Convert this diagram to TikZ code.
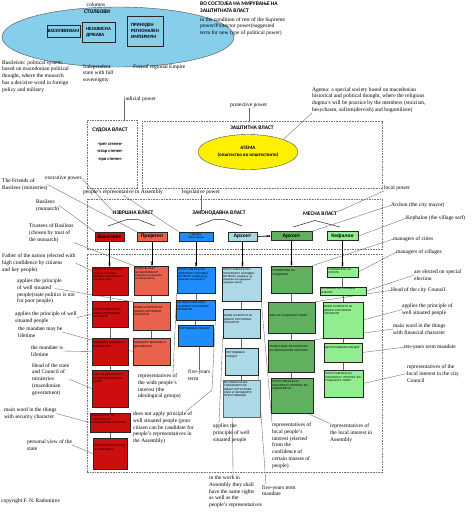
\documentclass[tikz,border=0pt]{standalone}
\usepackage{fontspec}
\setmainfont{Liberation Serif}
\newfontfamily\hfont{Carlito}
\newfontfamily\sfnt{Liberation Sans}
\usetikzlibrary{shapes.geometric,arrows.meta,fit,calc}
\pgfdeclarelayer{bg}
\pgfsetlayers{bg,main}
\definecolor{cskyb}{RGB}{135,206,235}
\definecolor{cred}{RGB}{204,14,14}
\definecolor{csal}{RGB}{232,98,78}
\definecolor{cblue}{RGB}{30,140,250}
\definecolor{clb}{RGB}{173,216,230}
\definecolor{cgreen}{RGB}{96,176,96}
\definecolor{clg}{RGB}{144,238,144}
\definecolor{cyel}{RGB}{255,240,0}
\newcommand\bx[8][2]{%
  \node[cbox, fill=#7, fit={(#3,#4) (#5,#6)}] (#2) {};
  \pgfmathsetmacro\tw{#5-#3-3}%
  \node[boxtxt, text width=\tw pt] (#2t) at ([shift={(1.5,#1)}]#2.north west) {#8};
}
\begin{document}
\begin{tikzpicture}[x=1pt,y=-1pt,
  ann/.style={anchor=north west, inner sep=0pt, align=left, font=\fontsize{5.5}{6.8}\selectfont},
  hd/.style={inner sep=0pt, align=center, font=\hfont\bfseries\fontsize{5.5}{7}\selectfont},
  cbox/.style={draw=black!85, line width=0.6pt, inner sep=0pt},
  boxtxt/.style={anchor=north west, inner sep=0pt, align=left, font=\sfnt\fontsize{2.7}{3.3}\selectfont},
  dbox/.style={draw=black!55, dash pattern=on 1.6pt off 1pt, line width=0.5pt, inner sep=0pt},
  conn/.style={draw=black!60, line width=0.35pt},
  tent/.style={draw=black!85, line width=0.5pt},
  arr/.style={draw=black, line width=0.6pt, -{Latex[length=2pt,width=2.4pt] Latex[length=2pt,width=2.4pt]}},
  toplbl/.style={cbox, font=\sfnt\bfseries\fontsize{5}{6}\selectfont, align=center, minimum height=9pt},
  colbox/.style={cbox, line width=1pt, fill=cskyb, align=left, font=\hfont\bfseries\fontsize{4.8}{6}\selectfont}
]
\useasboundingbox (0,0) rectangle (473,512);
\begin{pgfonlayer}{bg}
\fill[white] (0,0) rectangle (473,512);
\end{pgfonlayer}

% ---- top: columns ----
\node[ellipse, draw=black!70, fill=cskyb, minimum width=232pt, minimum height=60pt, inner sep=0pt] (cols) at (118,37) {};
\node[inner sep=0pt, font=\fontsize{5.5}{6.8}\selectfont] (colsen) at (96,5) {columns};
\node[hd] (colsmk) at (97,11.5) {СТОЛБОВИ};
\node[colbox, minimum width=33pt, minimum height=12pt] (vz) at (63.5,31) {ВАСИЛЕВИЗАМ};
\node[colbox, minimum width=33pt, minimum height=20pt] (nd) at (98.5,32) {НЕЗАВИСНА\\ДРЖАВА};
\node[colbox, minimum width=36pt, minimum height=30pt] (pr) at (145,31) {ПРИНУДЕН\\РЕГИОНАЛЕН\\ИМПЕРИУМ};

\node[ann] (basileism) at (2,60) {Basileism: political system\\based on macedonian political\\thought, where the monarch\\has a decisive word in foreign\\policy and military};
\node[ann] (indep) at (83,64) {Independent\\state with full\\sovereignty};
\node[ann] (forced) at (133,64) {Forced regional Empire};

\node[hd, anchor=north west, align=left] (resthd) at (200,2) {ВО СОСТОЈБА НА МИРУВАЊЕ НА\\ЗАШТИТНАТА ВЛАСТ};
\node[ann] (resten) at (200,17) {in the condition of rest of the Supreme\\power/Protector power(suggested\\term for new type of political power)};

% ---- judicial / protective ----
\node[ann] (judicial) at (124,96) {judicial power};
\node[dbox, fit={(87,120) (137,188)}] (sud) {};
\node[hd] (sudl) at (110,130) {СУДСКА ВЛАСТ};
\node[hd, font=\hfont\bfseries\fontsize{4.6}{7.3}\selectfont] (stepen) at (110,152) {-трет степен-\\-втор степен-\\-прв степен-};

\node[ann] (protect) at (230,103) {protective power};
\node[dbox, fit={(142,121) (382,188)}] (zast) {};
\node[hd] (zastl) at (252,128) {ЗАШТИТНА ВЛАСТ};
\node[ellipse, draw=black!70, fill=cyel, minimum width=100pt, minimum height=35pt, inner sep=0pt, hd, font=\hfont\bfseries\fontsize{5}{7.5}\selectfont] (agema) at (248,152) {АГЕМА\\(општество во општеството)};
\node[ann] (agtxt) at (312,87) {Agema: a special society based on macedonian\\historical and political thought, where the religious\\dogma's will be practice by the members (stoicism,\\hesychasm, sufism(dervish) and bogomilism)};

% ---- powers ----
\node[dbox, fit={(87,199) (382,249)}] (upbox) {};
\node[dbox, fit={(87,254) (382,472)}] (lowbox) {};
\node[hd] (izv) at (133,213) {ИЗВРШНА ВЛАСТ};
\node[hd] (zak) at (219,213) {ЗАКОНОДАВНА ВЛАСТ};
\node[hd] (mes) at (320,214) {МЕСНА ВЛАСТ};

\draw[tent] (108,226) -- (127,219.5) -- (138,219.5) -- (155,226);
\draw[tent] (196,226) -- (214,219.5) -- (224,219.5) -- (242,226);
\draw[tent] (293,227) -- (315,220.5) -- (340,227);

\node[toplbl, fill=cred, minimum width=29pt] (vas) at (109.5,236.5) {Василевс};
\node[toplbl, fill=csal, minimum width=30pt] (pri) at (152,236.5) {Пријател};
\node[toplbl, fill=cblue, minimum width=34pt, font=\sfnt\fontsize{2.7}{3.2}\selectfont] (nar) at (196,236.5) {Народен\\Претставник};
\node[toplbl, fill=clb, minimum width=29pt] (arl) at (242.5,236.5) {Архонт};
\node[toplbl, fill=cgreen, minimum width=41pt] (arg) at (291.5,236) {Архонт};
\node[toplbl, fill=clg, minimum width=31pt] (kef) at (342.5,236) {Кефалон};

% ---- column boxes ----
\bx{r1}{92}{267}{128}{295}{cred}{ТАТКО НА НАЦИЈАТА (избран со висока доверба на граѓаните и клучните луѓе)}
\bx[8]{r2}{92}{301}{128}{327}{cred}{ВАЖИ НАЧЕЛОТО ЗА ДОБРО СИТУИРАНИ ЛИЧНОСТИ}
\bx[4]{r3}{92}{338}{128}{365}{cred}{МАНДАТОТ МОЖЕ ДА Е ДОЖИВОТЕН}
\bx[4]{r4}{92}{370}{128}{407}{cred}{ШЕФ НА ДРЖАВАТА И НА МИНИСТЕРСКИОТ СОВЕТ}
\bx{r5}{90}{413}{130}{432}{cred}{ГЛАВЕН ЗБОР ВО РАБОТИТЕ СО БЕЗБЕДНОСЕН КАРАКТЕР}
\bx[7]{r6}{93}{438}{127}{469}{cred}{ПЕРСОНАЛЕН ПОГЛЕД НА ДРЖАВАТА}

\bx{s1}{134}{266}{168}{295}{csal}{ПОВЕРЕНИЦИ НА ВАСИЛЕВСОТ (избрани од доверба на Василевсот)}
\bx[5]{s2}{133}{302}{170}{330}{csal}{ВАЖИ НАЧЕЛОТО ЗА ДОБРО СИТУИРАНИ ЛИЧНОСТИ}
\bx[4]{s3}{133}{338}{170}{365}{csal}{МАНДАТОТ МОЖЕ ДА Е ДОЖИВОТЕН}

\bx{b1}{177}{267}{215}{293}{cblue}{ПРЕТСТАВНИЦИ НА ШИРОКИОТ НАРОДЕН ИНТЕРЕС (избрани од доверба на народот)}
\bx{b2}{176}{300}{215}{320}{cblue}{НЕ ВАЖИ НАЧЕЛОТО ЗА ДОБРО СИТУИРАНИ ЛИЧНОСТИ}
\bx[3]{b3}{178}{325}{213}{346}{cblue}{ПЕТГОДИШЕН МАНДАТ}

\bx{l1}{222}{267}{261}{301}{clb}{ПРЕТСТАВНИЦИ НА ЛОКАЛНИОТ НАРОДЕН ИНТЕРЕС (избрани од доверба на одредени народни маси)}
\bx[6]{l2}{223}{309}{260}{338}{clb}{ВАЖИ НАЧЕЛОТО ЗА ДОБРО СИТУИРАНИ ЛИЧНОСТИ}
\bx[4]{l3}{225}{348}{258}{375}{clb}{ПЕТГОДИШЕН МАНДАТ}
\node[cbox, draw=black!60, line width=1pt, fill=clb, fit={(223,380) (260,417)}] (l4) {};
\node[boxtxt, text width=34pt] (l4t) at ([shift={(1.5,2)}]l4.north west) {ВО РАБОТАТА ВО СОБРАНИЕТО ЌЕ ИМААТ ИСТИ ПРАВА КАКО И НАРОДНИТЕ ПРЕТСТАВНИЦИ};

\bx[4]{g1}{271}{266}{312}{293}{cgreen}{УПРАВИТЕЛИ НА ГРАДОВИТЕ}
\bx[13]{g2}{268}{302}{315}{333}{cgreen}{ШЕФ НА ГРАДСКИОТ СОВЕТ}
\bx[6]{g3}{268}{340}{314}{372}{cgreen}{ГЛАВЕН ЗБОР ВО РАБОТИТЕ СО ФИНАНСИСКИ КАРАКТЕР}
\bx[3]{g4}{271}{378}{313}{413}{cgreen}{ПРЕТСТАВНИЦИ НА ЛОКАЛНИОТ ИНТЕРЕС ВО СОБРАНИЕТО}

\bx[1.5]{k1}{327}{267}{358}{277}{clg}{УПРАВИТЕЛИ НА СЕЛАТА}
\bx[1.2]{k2}{320}{287}{366}{295}{clg}{СЕ БИРААТ НА ПОСЕБНИ ИЗБОРИ}
\bx[4]{k3}{323}{302}{363}{338}{clg}{ВАЖИ НАЧЕЛОТО ЗА ДОБРО СИТУИРАНИ ЛИЧНОСТИ}
\bx[4]{k4}{324}{343}{362}{362}{clg}{ДЕСЕТГОДИШЕН МАНДАТ}
\bx[3]{k5}{324}{370}{363}{397}{clg}{ПРЕТСТАВНИЦИ НА ЛОКАЛНИОТ ИНТЕРЕС ВО ГРАДСКИОТ СОВЕТ}

% ---- annotations ----
\node[ann] (friends) at (2,178.5) {The Friends of\\Basileos (ministries)};
\node[ann] (execp) at (45,175.5) {executive power};
\node[ann] (peoplerep) at (83,189.5) {people's representative in Assembly};
\node[ann] (legis) at (182,189.5) {legislative power};
\node[ann] (basileos) at (36,199.5) {Basileos\\(monarch)};
\node[ann] (trustees) at (29,223.5) {Trustees of Basileos\\(chosen by trust of\\the monarch)};
\node[ann] (father) at (2,253.5) {Father of the nation (elected with\\high confidence by citizens\\and key people)};
\node[ann] (app1) at (17,278.5) {applies the principle\\of well situated\\people(state politics is not\\for poor people)};
\node[ann] (app2) at (15,311.5) {applies the principle of well\\situated people};
\node[ann] (mand1) at (18,326.5) {the mandate may be\\lifetime};
\node[ann] (mand2) at (31,345.5) {the mandate is\\lifetime};
\node[ann] (headst) at (32,363) {Head of the state\\and Council of\\ministries\\(macedonian\\government)};
\node[ann] (mainsec) at (4,407.5) {main word in the things\\with security character};
\node[ann] (persv) at (27,439.5) {personal view of the\\state};
\node[ann] (copy) at (1,498.5) {copyright F. N. Radomirov};

\node[ann] (widep) at (138,373.5) {representatives of\\the wide people's\\interest (the\\ideological groups)};
\node[ann] (fivey1) at (188,369.5) {five-years\\term};
\node[ann] (doesnot) at (133,411.5) {does not apply principle of\\well situated people (poor\\citizen can be candidate for\\people's representatives in\\the Assembly)};
\node[ann] (appl) at (213,423.5) {applies the\\principle of well\\situated people};
\node[ann] (localpi) at (272,422.5) {representatives of\\local people's\\interest (elected\\from the\\confidence of\\certain masses of\\people)};
\node[ann] (locass) at (330,423.5) {representatives of\\the local interest in\\Assembly};
\node[ann] (samer) at (209,475.5) {in the work in\\Assembly they shall\\have the same rights\\as well as the\\people's representatives};
\node[ann] (fivey2) at (262,485) {five-years term\\mandate};

\node[ann] (localp) at (384,185.5) {local power};
\node[ann] (archon) at (391,202.5) {Archon (the city mayor)};
\node[ann] (keph) at (406,215.5) {Kephalon (the village serf)};
\node[ann] (mcit) at (393,236.5) {managers of cities};
\node[ann] (mvil) at (396,249.5) {managers of villages};
\node[ann] (spel) at (414,269.5) {are elected on special\\election};
\node[ann] (headc) at (391,287.5) {Head of the city Council};
\node[ann] (appk) at (402,303.5) {applies the principle of\\well situated people};
\node[ann] (mainfin) at (393,323.5) {main word in the things\\with financial character};
\node[ann] (tenyr) at (404,344.5) {ten-years term mandate};
\node[ann] (repcc) at (407,364.5) {representatives of the\\local interest in the city\\Council};

\coordinate (dn) at (212,390);

% ---- arrows ----
\draw[arr] (vas.south) -- (vas.south |- r1.north);
\draw[arr] (pri.south) -- (pri.south |- s1.north);
\draw[arr] (nar.south) -- (nar.south |- b1.north);
\draw[arr] (arl.south) -- (arl.south |- l1.north);
\draw[arr] (arg.south) -- (arg.south |- g1.north);
\draw[arr] (kef.south) -- (kef.south |- k1.north);
\draw[arr] (arl.east) -- (arg.west);

% ---- connectors (behind) ----
\begin{pgfonlayer}{bg}
\foreach \a/\b in {r1/r2,r2/r3,r3/r4,r4/r5,r5/r6,s1/s2,s2/s3,b1/b2,b2/b3,l1/l2,l2/l3,l3/l4,g1/g2,g2/g3,g3/g4,k1/k2,k2/k3,k3/k4,k4/k5}
  \draw[conn] (\a.south) -- (\a.south |- \b.north);
\draw[conn] (nd.south) -- (indep.north);
\draw[conn] (pr.south) -- ([xshift=20pt]forced.north west);
\draw[conn] (judicial.south west) -- (judicial.south west |- sud.north);
\draw[conn] (protect.south) -- (protect.south |- zast.north);
\draw[conn] (agtxt.south west) -- (agema.north east);
\draw[conn] (friends.east) -- (pri.north west);
\draw[conn] (execp.east) -- (izv.north west);
\draw[conn] (peoplerep.south) -- (nar.north west);
\draw[conn] (legis.south) -- (legis.south |- zak.north);
\draw[conn] (basileos.east) -- (vas.north west);
\draw[conn] (trustees.south east) -- (s1.north west);
\draw[conn] (father.east) -- ([yshift=-4pt]r1.north west);
\draw[conn] ([xshift=38pt,yshift=-10pt]app1.north west) -- (s2.north west);
\draw[conn] (app2.east) -- (r2.west);
\draw[conn] (mand1.east) -- (s3.west);
\draw[conn] (mand2.east) -- (r3.west);
\draw[conn] (headst.east) -- (r4.west);
\draw[conn] (mainsec.east) -- (r5.west);
\draw[conn] (persv.east) -- (r6.west);
\draw[conn] ([xshift=35pt]widep.north west) -- (b1.south west);
\draw[conn] (fivey1.north) -- (fivey1.north |- b3.south);
\draw[conn] ([xshift=-8pt]doesnot.north east) -- (dn) -- (b2.south east);
\draw[conn] ([xshift=6pt]appl.north west) -- (l2.south west);
\draw[conn] ([xshift=24pt]samer.north west) -- ([xshift=10pt]l4.south west);
\draw[conn] ([xshift=4pt]fivey2.north west) -- (l3.south east);
\draw[conn] (localpi.north west) -- (l1.south east);
\draw[conn] (locass.north west) -- ([xshift=-6pt]g4.south east);
\draw[conn] (localp.south west) -- (mes.north east);
\draw[conn] (archon.west) -- (arg.north east);
\draw[conn] (keph.west) -- (kef.east);
\draw[conn] (mcit.west) -- (g1.north east);
\draw[conn] (mvil.west) -- (k1.east);
\draw[conn] (spel.west) -- (k2.east);
\draw[conn] (headc.west) -- (g2.north east);
\draw[conn] (appk.west) -- (k3.east);
\draw[conn] (mainfin.west) -- (g3.north east);
\draw[conn] (tenyr.west) -- (k4.east);
\draw[conn] (repcc.west) -- (k5.east);
\end{pgfonlayer}
\end{tikzpicture}
\end{document}
